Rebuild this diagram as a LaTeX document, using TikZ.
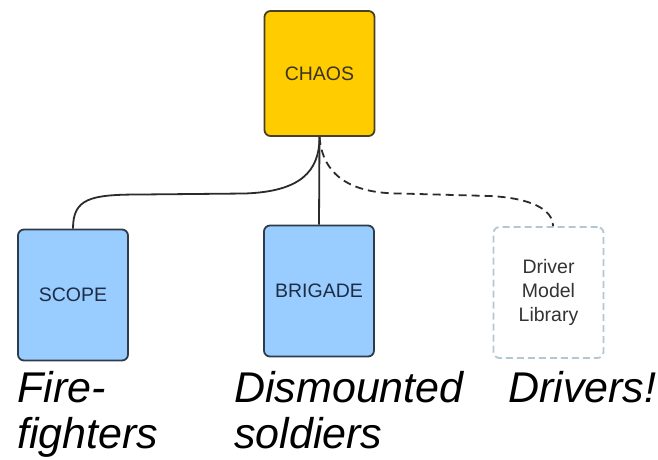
\documentclass[tikz,border=0pt]{standalone}
\usepackage{fontspec}
\setmainfont{Liberation Sans}

\definecolor{chaosfill}{HTML}{FFCC00}
\definecolor{chaosline}{HTML}{4A3F22}
\definecolor{chaostext}{HTML}{3A3322}
\definecolor{modfill}{HTML}{99CCFF}
\definecolor{modline}{HTML}{2E3B4A}
\definecolor{modtext}{HTML}{1E2D44}
\definecolor{plannedline}{HTML}{B4C6D2}
\definecolor{linkcol}{HTML}{2B2B2B}

\tikzset{
  modbox/.style={rectangle, rounded corners=6pt, line width=1.8pt,
    minimum width=110pt, minimum height=131pt, inner sep=0pt,
    font=\fontsize{19.5}{24}\selectfont, align=center},
  corebox/.style={modbox, fill=chaosfill, draw=chaosline, text=chaostext,
    minimum height=125pt},
  simbox/.style={modbox, fill=modfill, draw=modline, text=modtext},
  plannedbox/.style={modbox, fill=white, draw=plannedline,
    dash pattern=on 7pt off 4pt, text=black!80},
  userlabel/.style={anchor=base west, inner sep=0pt, align=left,
    font=\fontsize{43}{46}\selectfont\itshape},
  link/.style={draw=linkcol, line width=1.8pt},
  futurelink/.style={link, dash pattern=on 8pt off 5pt}
}

\begin{document}
\begin{tikzpicture}[x=1pt, y=-1pt]
  \useasboundingbox (0,0) rectangle (658,459);

  % framework and the simulators that plug into it
  \node[corebox]    (chaos)   at (319.5,73.5) {CHAOS};
  \node[simbox]     (scope)   at (73,295)     {SCOPE};
  \node[simbox]     (brigade) at (319,291)    {BRIGADE};
  \node[plannedbox] (driver)  at (548.5,292.5) {Driver\\Model\\Library};

  % bend points of the curved links
  \coordinate (s1) at (140,194.5);
  \coordinate (s2) at (245,193.5);
  \coordinate (d1) at (400,193.5);
  \coordinate (d2) at (490,196);

  % links
  \draw[link] (scope.north) .. controls +(0,-30) and +(-50,0) .. (s1)
    -- (s2) .. controls +(55,-2) and +(0,35) .. (chaos.south);
  \draw[link] (chaos.south) -- (brigade.north);
  \draw[futurelink] (chaos.south) .. controls +(3,38) and +(-50,0) .. (d1)
    -- (d2) .. controls +(40,2) and +(0,-17) .. ([xshift=4.5pt]driver.north);

  % who each simulator represents (base anchor sits on the last line)
  \node[userlabel] (lscope)   at (17,448)  {Fire-\\fighters};
  \node[userlabel] (lbrigade) at (234,448) {Dismounted\\soldiers};
  \node[userlabel] (ldriver)  at (508,402) {Drivers!};
\end{tikzpicture}
\end{document}
